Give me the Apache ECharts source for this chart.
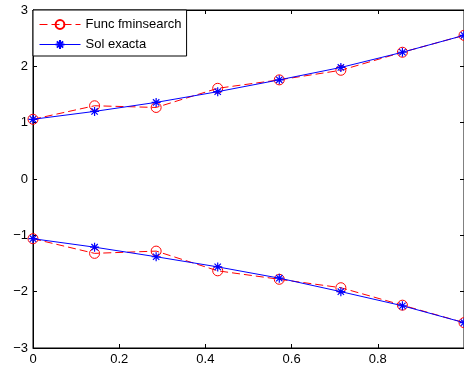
<!DOCTYPE html>
<html>
<head>
<meta charset="utf-8">
<script src="https://cdn.jsdelivr.net/npm/echarts@6/dist/echarts.min.js"></script>
<style>html,body{margin:0;padding:0;background:#fff;}#c{width:464px;height:370px;}</style>
</head>
<body>
<div id="c"></div>
<script>
const xValues = [0, 0.142857, 0.285714, 0.428571, 0.571429, 0.714286, 0.857143, 1];
const fminUpper = [1.06, 1.30, 1.27, 1.61, 1.76, 1.93, 2.25, 2.55];
const fminLower = [-1.06, -1.32, -1.28, -1.63, -1.78, -1.93, -2.24, -2.55];
const exactUpper = [1.06, 1.20, 1.36, 1.55, 1.76, 1.98, 2.25, 2.55];
const exactLower = [-1.06, -1.21, -1.38, -1.56, -1.76, -2.00, -2.25, -2.55];
const xTicks = [0, 0.2, 0.4, 0.6, 0.8, 1];
const yTicks = [-3, -2, -1, 0, 1, 2, 3];
const nameFmin = 'Func fminsearch';
const nameExact = 'Sol exacta';

const pairs = (ys) => xValues.map((x, i) => [x, ys[i]]);
const star = 'path://M0,-10L0,10M-10,0L10,0M-7.07,-7.07L7.07,7.07M-7.07,7.07L7.07,-7.07';
const fontFam = '"Liberation Sans", Arial, Helvetica, sans-serif';
const minusFmt = v => String(v).replace('-', '\u2212');

const fminStyle = {
  type: 'line', name: nameFmin, symbol: 'circle', symbolSize: 10,
  itemStyle: { color: 'rgba(0,0,0,0)', borderColor: '#ff0000', borderWidth: 1 },
  lineStyle: { color: '#ff0000', width: 1, type: [8, 4] },
  emphasis: { disabled: true }, animation: false, z: 2
};
const exactStyle = {
  type: 'line', name: nameExact, symbol: star, symbolSize: 9, symbolKeepAspect: true,
  itemStyle: { color: '#0000ff', borderColor: '#0000ff', borderWidth: 1.2 },
  lineStyle: { color: '#0000ff', width: 1 },
  emphasis: { disabled: true }, animation: false, z: 3
};
const axLine = { show: true, onZero: false, lineStyle: { color: '#000', width: 1 } };
const axTick = { show: true, inside: true, length: 4, lineStyle: { color: '#000' } };

const chart = echarts.init(document.getElementById('c'), null, { renderer: 'canvas' });
chart.setOption({
  backgroundColor: '#fff',
  animation: false,
  textStyle: { fontFamily: fontFam },
  grid: { left: 33, top: 10, width: 433, height: 338, show: true, borderColor: '#000', borderWidth: 1, backgroundColor: '#fff' },
  legend: {
    left: 33, top: 10, orient: 'vertical',
    data: [nameFmin, nameExact],
    itemWidth: 41, itemHeight: 11, itemGap: 7,
    padding: [8, 5, 5, 6],
    backgroundColor: '#fff', borderColor: '#000', borderWidth: 1,
    lineStyle: { width: 1 },
    textStyle: { fontFamily: fontFam, fontSize: 13, color: '#000' },
    selectedMode: false
  },
  xAxis: [{
    type: 'value', min: 0, max: 1, interval: 0.2,
    axisLine: axLine, axisTick: axTick,
    axisLabel: { color: '#000', fontSize: 13, margin: 5, fontFamily: fontFam, showMaxLabel: false },
    splitLine: { show: false }
  }, {
    type: 'value', min: 0, max: 1, interval: 0.2, position: 'top',
    axisLine: axLine, axisTick: axTick,
    axisLabel: { show: false }, splitLine: { show: false }
  }],
  yAxis: [{
    type: 'value', min: -3, max: 3, interval: 1,
    axisLine: axLine, axisTick: axTick,
    axisLabel: { color: '#000', fontSize: 13, margin: 5, fontFamily: fontFam, formatter: minusFmt },
    splitLine: { show: false }
  }, {
    type: 'value', min: -3, max: 3, interval: 1, position: 'right',
    axisLine: axLine, axisTick: axTick,
    axisLabel: { show: false }, splitLine: { show: false }
  }],
  series: [
    Object.assign({}, fminStyle, { data: pairs(fminUpper) }),
    Object.assign({}, exactStyle, { data: pairs(exactUpper) }),
    Object.assign({}, fminStyle, { data: pairs(fminLower) }),
    Object.assign({}, exactStyle, { data: pairs(exactLower) })
  ]
});
</script>
</body>
</html>
